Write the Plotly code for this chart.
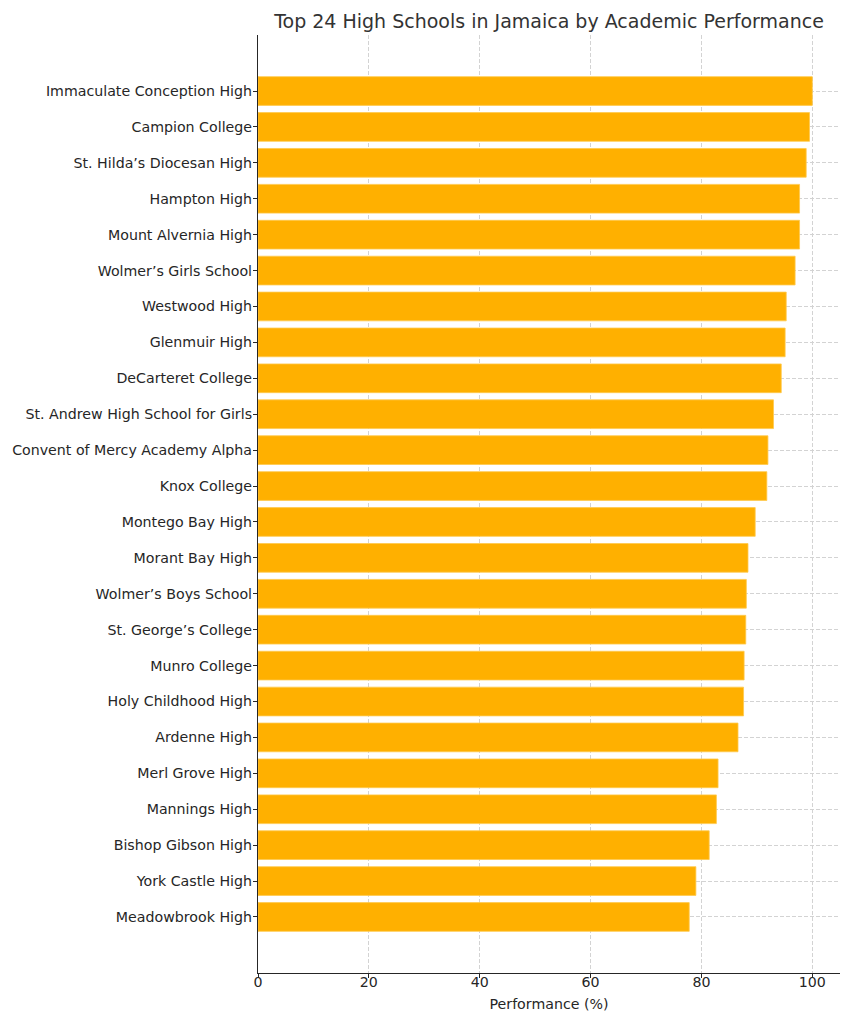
import plotly.graph_objects as go

schools = [
    "Immaculate Conception High", "Campion College", "St. Hilda’s Diocesan High",
    "Hampton High", "Mount Alvernia High", "Wolmer’s Girls School", "Westwood High",
    "Glenmuir High", "DeCarteret College", "St. Andrew High School for Girls",
    "Convent of Mercy Academy Alpha", "Knox College", "Montego Bay High",
    "Morant Bay High", "Wolmer’s Boys School", "St. George’s College", "Munro College",
    "Holy Childhood High", "Ardenne High", "Merl Grove High", "Mannings High",
    "Bishop Gibson High", "York Castle High", "Meadowbrook High",
]
performance = [
    100.0, 99.5, 98.9, 97.7, 97.7, 96.9, 95.3, 95.1, 94.4, 93.0, 92.0, 91.8,
    89.7, 88.4, 88.1, 88.0, 87.7, 87.6, 86.6, 83.0, 82.7, 81.4, 79.0, 77.8,
]
x_ticks = [0, 20, 40, 60, 80, 100]

fig = go.Figure(go.Bar(
    x=performance, y=schools, orientation="h",
    marker=dict(color="#FFB000", line=dict(color="#FFC94D", width=0.8)),
    width=0.8,
))

n = len(schools)
fig.update_layout(
    width=853, height=1024,
    margin=dict(l=258, r=13, t=35, b=51, autoexpand=False),
    paper_bgcolor="white", plot_bgcolor="white",
    font=dict(family="DejaVu Sans", size=14.2, color="#262626"),
    title=dict(text="Top 24 High Schools in Jamaica by Academic Performance",
               x=(258 + 840) / 2 / 853, xanchor="center", y=1 - 21 / 1024, yanchor="middle",
               font=dict(size=19, color="#333333")),
    showlegend=False,
    bargap=0.2,
)
grid = dict(showgrid=True, gridcolor="#d3d3d3", griddash="4px,2px", gridwidth=0.8)
fig.update_xaxes(
    range=[0, 105], tickvals=x_ticks, ticks="outside", ticklen=4, tickcolor="#262626",
    showline=True, linecolor="#262626", linewidth=1.2, zeroline=False,
    title=dict(text="Performance (%)", font=dict(size=14.2), standoff=9),
    tickfont=dict(size=14.2), automargin=False, ticklabelstandoff=-8, **grid,
)
fig.update_yaxes(
    type="category", categoryorder="array", categoryarray=schools,
    range=[n - 1 + 1.56, -1.56],
    ticks="outside", ticklen=4, tickcolor="#262626",
    showline=True, linecolor="#262626", linewidth=1.2, zeroline=False,
    tickfont=dict(size=14.2), automargin=False, ticklabelstandoff=-2, **grid,
)

fig.write_html("out.html", config={"displayModeBar": False},
               post_script="document.body.style.margin='0';")
